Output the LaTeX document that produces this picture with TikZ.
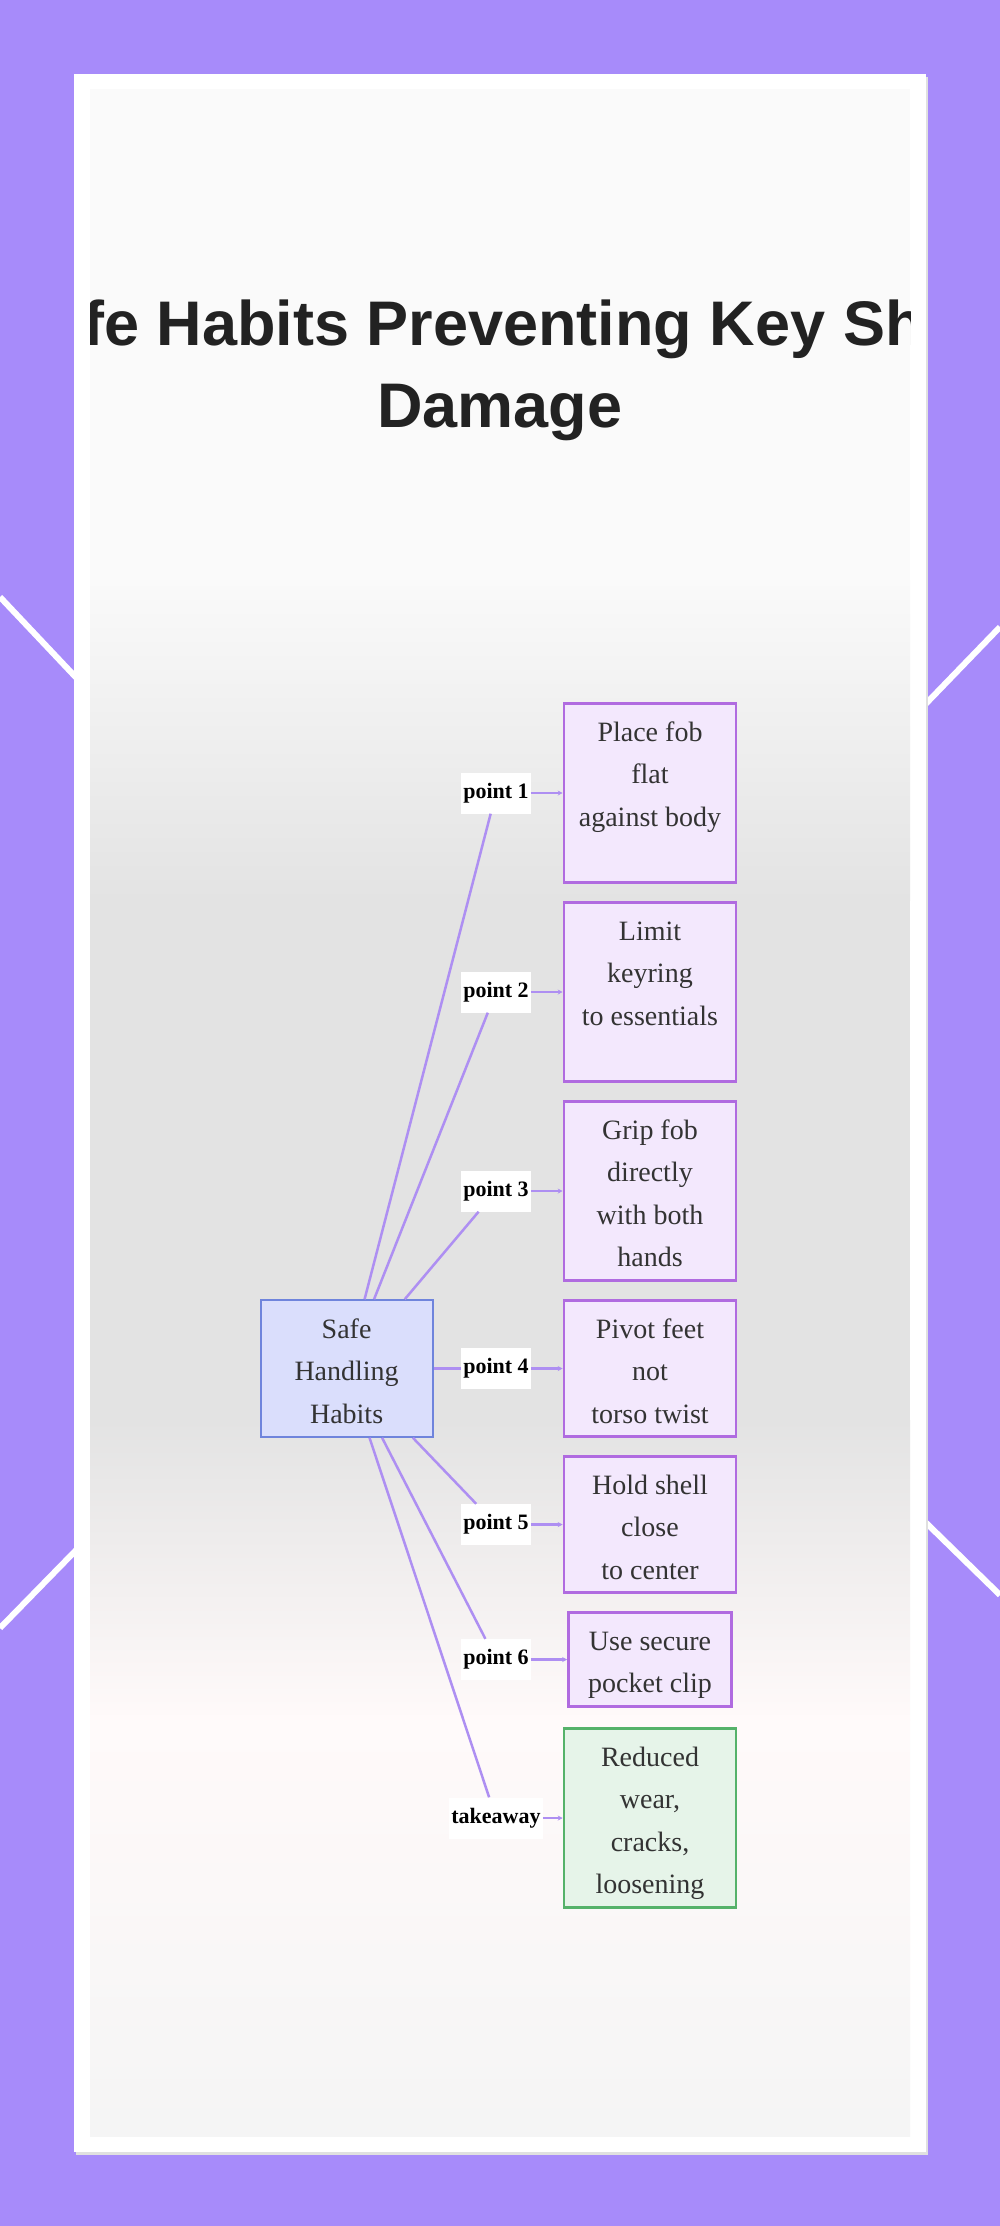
\documentclass[tikz,border=0pt]{standalone}
\usepackage{fontspec}
\setmainfont{Liberation Serif}
\newfontfamily\headfont{Liberation Sans}
\usetikzlibrary{positioning,arrows.meta}

\definecolor{framebg}{HTML}{A78BFA}
\definecolor{photogray}{HTML}{E3E3E3}
\definecolor{headtext}{HTML}{222222}
\definecolor{boxtext}{HTML}{333333}
\definecolor{hubfill}{HTML}{DADEFC}
\definecolor{hubline}{HTML}{6F84DC}
\definecolor{tipfill}{HTML}{F3E8FD}
\definecolor{tipline}{HTML}{B06BE0}
\definecolor{endfill}{HTML}{E6F4E9}
\definecolor{endline}{HTML}{55B26A}
\definecolor{linkcol}{HTML}{AE8FF2}

\begin{document}
\begin{tikzpicture}[x=1pt,y=-1pt,
  box/.style={draw, line width=2.6pt, align=center, minimum width=172pt,
    inner xsep=10pt, inner ysep=12pt,
    font=\fontsize{28}{42.6}\selectfont, text=boxtext},
  hubbox/.style={box, draw=hubline, fill=hubfill, line width=2.2pt},
  tipbox/.style={box, draw=tipline, fill=tipfill},
  endbox/.style={box, draw=endline, fill=endfill},
  tag/.style={fill=white, font=\fontsize{22}{26}\selectfont\bfseries,
    inner xsep=2pt, inner ysep=0pt, minimum height=41pt},
  link/.style={draw=linkcol, line width=2.5pt},
  node distance=17pt]
  \useasboundingbox (0,0) rectangle (1000,2226);
  % frame and card
  \fill[framebg] (0,0) rectangle (1000,2226);
  \draw[white, line width=6pt] (0,597) -- (85,687);
  \draw[white, line width=6pt] (0,1628) -- (85,1541);
  \draw[white, line width=6pt] (1000,627) -- (915,715);
  \draw[white, line width=6pt] (915,1512) -- (1000,1595);
  \fill[black!12] (76,77) rectangle (928,2155);
  \fill[white] (74,74) rectangle (926,2152);
  \fill[white!98!black] (90,89) rectangle (910,2136);
  \shade[top color=white!98!black, bottom color=photogray] (90,580) rectangle (910,900);
  \fill[photogray] (90,899) rectangle (910,1421);
  \shade[top color=photogray, bottom color=white!98!red] (90,1420) rectangle (910,1720);
  \shade[top color=white!98!red, bottom color=white!96!black] (90,1719) rectangle (910,2136);
  % title
  \begin{scope}
    \clip (90,89) rectangle (910,2136);
    \node[anchor=base, align=center, text=headtext,
      font=\headfont\bfseries\fontsize{63}{82.7}\selectfont] (title) at (500,427.7)
      {Safe Habits Preventing Key Shell\\Damage};
  \end{scope}
  % habit boxes
  \node[tipbox, anchor=north, text height=111pt, text depth=44.4pt] (habit1) at (650,702) {Place fob\\flat\\against body};
  \node[tipbox, below=of habit1, text height=111pt, text depth=44.4pt] (habit2) {Limit\\keyring\\to essentials};
  \node[tipbox, below=of habit2, text height=153.6pt, text depth=1.8pt] (habit3) {Grip fob\\directly\\with both\\hands};
  \node[tipbox, below=of habit3, text height=111pt, text depth=1.4pt] (habit4) {Pivot feet\\not\\torso twist};
  \node[tipbox, below=of habit4, text height=111pt, text depth=1.4pt] (habit5) {Hold shell\\close\\to center};
  \node[tipbox, below=of habit5, text height=68.4pt, text depth=2pt, minimum width=163pt] (habit6) {Use secure\\pocket clip};
  \node[endbox, below=19pt of habit6, text height=153.6pt, text depth=1.8pt] (result) {Reduced\\wear,\\cracks,\\loosening};
  \node[hubbox, left=129pt of habit4, text height=111pt, text depth=1.4pt] (hub) {Safe\\Handling\\Habits};
  % edge labels
  \coordinate (col) at (496,0);
  \node[tag] (t1) at (col |- habit1) {point 1};
  \node[tag] (t2) at (col |- habit2) {point 2};
  \node[tag] (t3) at (col |- habit3) {point 3};
  \node[tag] (t4) at (col |- habit4) {point 4};
  \node[tag] (t5) at (col |- habit5) {point 5};
  \node[tag] (t6) at (col |- habit6) {point 6};
  \node[tag] (t7) at (col |- result) {takeaway};
  % connectors
  \draw[link] (hub) -- (t1);
  \draw[link] (hub) -- (t2);
  \draw[link] (hub) -- (t3);
  \draw[link] (hub) -- (t4);
  \draw[link] (hub) -- (t5);
  \draw[link] (hub) -- (t6);
  \draw[link] (hub) -- (t7);
  \draw[link, -{Stealth[length=5pt,width=5pt]}] (t1) -- (habit1);
  \draw[link, -{Stealth[length=5pt,width=5pt]}] (t2) -- (habit2);
  \draw[link, -{Stealth[length=5pt,width=5pt]}] (t3) -- (habit3);
  \draw[link, -{Stealth[length=5pt,width=5pt]}] (t4) -- (habit4);
  \draw[link, -{Stealth[length=5pt,width=5pt]}] (t5) -- (habit5);
  \draw[link, -{Stealth[length=5pt,width=5pt]}] (t6) -- (habit6);
  \draw[link, -{Stealth[length=5pt,width=5pt]}] (t7) -- (result);
\end{tikzpicture}
\end{document}
